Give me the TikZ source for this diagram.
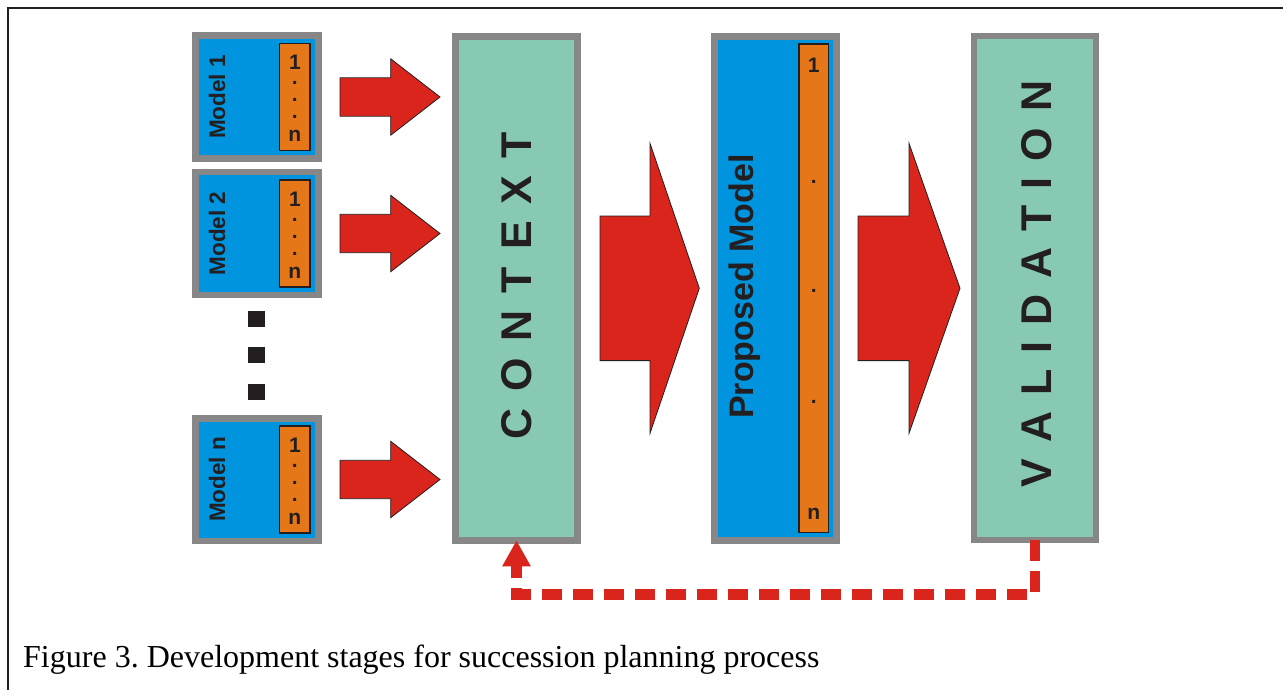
\documentclass[tikz,border=0pt]{standalone}
\usepackage{fontspec}
\setmainfont{Liberation Serif}
\setsansfont{Liberation Sans}
\usetikzlibrary{arrows.meta}

\definecolor{modelblue}{RGB}{0,148,222}
\definecolor{striporange}{RGB}{229,119,24}
\definecolor{framegray}{RGB}{135,135,135}
\definecolor{stageteal}{RGB}{136,201,180}
\definecolor{arrowred}{RGB}{218,37,29}
\definecolor{inkdark}{RGB}{35,31,32}

% spaced capitals for the stage boxes
\newcommand\stagefont[1]{\sffamily\bfseries\fontsize{43}{43}\selectfont\spaceskip=#1pt\relax}

% block arrow: tail x, neck x, tip x, centre y, half shaft, half head
\newcommand\blockarrow[6]{%
  \draw[barrow] (#1,#4-#5) -- (#2,#4-#5) -- (#2,#4-#6) -- (#3,#4)
    -- (#2,#4+#6) -- (#2,#4+#5) -- (#1,#4+#5) -- cycle;}

\tikzset{
  modelbox/.style={draw=framegray, line width=6.7pt, fill=modelblue,
    minimum width=122.7pt, minimum height=122.7pt, inner sep=0pt, outer sep=0pt},
  stagebox/.style={draw=framegray, line width=6.7pt, fill=stageteal,
    minimum width=122pt, minimum height=504pt, inner sep=0pt, outer sep=0pt},
  propbox/.style={stagebox, fill=modelblue},
  strip/.style={draw=inkdark, line width=1.4pt, fill=striporange,
    inner sep=0pt, outer sep=0pt},
  modellabel/.style={font=\sffamily\bfseries\fontsize{22.5}{22.5}\selectfont,
    text=inkdark, rotate=90, anchor=base, inner sep=0pt},
  stripchar/.style={font=\sffamily\bfseries\fontsize{21}{21}\selectfont,
    text=inkdark, anchor=base, inner sep=0pt},
  stripcol/.style={font=\sffamily\bfseries\fontsize{21}{17}\selectfont,
    text=inkdark, align=center, anchor=north, inner sep=0pt},
  barrow/.style={fill=arrowred, draw=inkdark, line width=0.8pt, line join=miter},
  dotsq/.style={fill=inkdark, minimum size=16.5pt, inner sep=0pt},
  feedback/.style={draw=arrowred, line width=10.5pt,
    dash pattern=on 20.7pt off 10.3pt,
    -{Triangle[width=26.7pt,length=26pt]}},
}

\begin{document}
\begin{tikzpicture}[x=1pt, y=-1pt]
\useasboundingbox (0,0) rectangle (1283,690);

% page frame
\draw[line width=2.2pt, inkdark] (8.2,690) -- (8.2,7.7) -- (1283,7.7);

% input models
\foreach \nm/\lbl/\yc in {m1/Model 1/97, m2/Model 2/233.5, mn/Model n/479.5}{
  \node[modelbox] (\nm) at (257,\yc) {};
  \node[strip, minimum width=30.3pt, minimum height=107pt] (\nm s) at (294.9,\yc) {};
  \node[modellabel] (\nm l) at (225,\yc) {\lbl};
  \node[stripcol] (\nm c) at (294.9,\yc-42) {1\\[-2pt].\\.\\.\\[6pt]n};
}

% vertical ellipsis between the models
\node[dotsq] (d1) at (256.5,319) {};
\node[dotsq] (d2) at (256.5,355) {};
\node[dotsq] (d3) at (256.5,392) {};

% small arrows into the context box
\blockarrow{340}{390.7}{440}{97}{19.2}{38.2}
\blockarrow{340}{390.7}{440}{233.5}{19.2}{38.2}
\blockarrow{340}{390.7}{440}{479.5}{19.2}{38.2}

% context stage
\node[stagebox] (ctx) at (516.5,288.3) {};
\node[font=\stagefont{17}, text=inkdark, rotate=90, anchor=base, inner sep=0pt]
  (ctxl) at (531.7,286) {C O N T E X T};

% proposed model stage
\node[propbox] (prop) at (775.5,288.2) {};
\node[strip, minimum width=29.6pt, minimum height=488.6pt] (props) at (813.8,288.3) {};
\node[modellabel, font=\sffamily\bfseries\fontsize{34}{34}\selectfont]
  (propl) at (753,286.5) {Proposed Model};
\node[stripchar] (pa) at (813.8,72.7) {1};
\node[stripchar] (pb) at (813.8,184) {.};
\node[stripchar] (pc) at (813.8,292) {.};
\node[stripchar] (pd) at (813.8,403) {.};
\node[stripchar] (pe) at (813.8,519) {n};

% validation stage
\node[stagebox] (val) at (1034.9,288) {};
\node[font=\stagefont{16}, text=inkdark, rotate=90, anchor=base, inner sep=0pt]
  (vall) at (1051.7,284) {V A L I D A T I O N};

% large arrows between stages
\blockarrow{600}{650}{699.3}{288.3}{72.3}{145}
\blockarrow{858}{909}{960}{288.3}{72.3}{145}

% feedback from validation back to context
\draw[feedback] (val.south) -- (val.south |- 0,594.3) -| (ctx.south);

% caption
\node[font=\frenchspacing\fontsize{32}{32}\selectfont, anchor=base west, inner sep=0pt]
  (cap) at (23,667) {Figure 3. Development stages for succession planning process};
\end{tikzpicture}
\end{document}
